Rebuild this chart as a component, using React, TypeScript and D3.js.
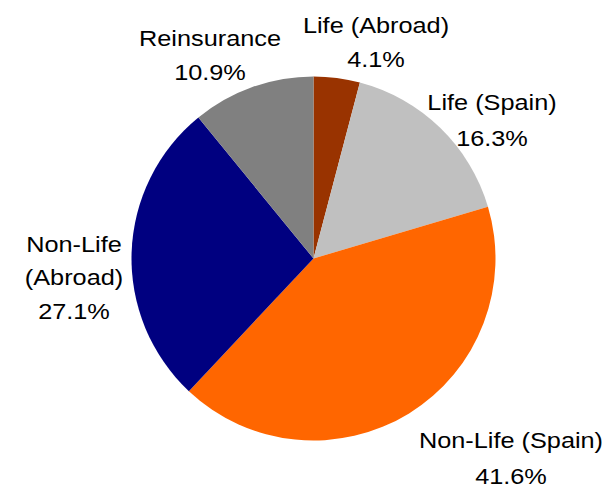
import React from 'react';
import * as d3 from 'd3';

// segments, clockwise from 12 o'clock
const segments = ['Life (Abroad)', 'Life (Spain)', 'Non-Life (Spain)', 'Non-Life (Abroad)', 'Reinsurance'];
const shares = [4.1, 16.3, 41.6, 27.1, 10.9];
const segmentColors = ['#993300', '#C0C0C0', '#FF6600', '#000080', '#808080'];

// label text lines (label lines split as in the original)
const labelLines = [
  ['Life (Abroad)'],
  ['Life (Spain)'],
  ['Non-Life (Spain)'],
  ['Non-Life', '(Abroad)'],
  ['Reinsurance'],
];

// where each label block sits (center x, first baseline y)
const labelPos = [
  { x: 376, y: 33, dy: 34 },
  { x: 492, y: 110, dy: 36 },
  { x: 511, y: 448, dy: 36 },
  { x: 74, y: 252, dy: 33.5 },
  { x: 210, y: 46, dy: 34 },
];

const width = 612;
const height = 488;
const cx = 313.5;
const cy = 258.5;
const radius = 182;

export default function App() {
  const pie = d3.pie<number>().sort(null).value(d => d);
  const arcs = pie(shares);
  const arc = d3.arc<d3.PieArcDatum<number>>().innerRadius(0).outerRadius(radius);

  return (
    <svg width={width} height={height} style={{ position: 'absolute', left: 0, top: 0, background: '#fff' }}>
      <g transform={`translate(${cx},${cy})`}>
        {arcs.map((a, i) => (
          <path key={segments[i]} d={arc(a) || ''} fill={segmentColors[i]} />
        ))}
      </g>
      {labelLines.map((lines, i) => {
        const p = labelPos[i];
        const all = [...lines, shares[i].toFixed(1) + '%'];
        return (
          <g key={'lab' + i} transform={`translate(${p.x},0) scale(1.15,1)`}>
            {all.map((t, j) => (
              <text
                key={j}
                x={0}
                y={p.y + j * p.dy}
                textAnchor="middle"
                fontFamily="'Liberation Sans', Arial, sans-serif"
                fontSize={22}
                fill="#000"
              >
                {t}
              </text>
            ))}
          </g>
        );
      })}
    </svg>
  );
}
